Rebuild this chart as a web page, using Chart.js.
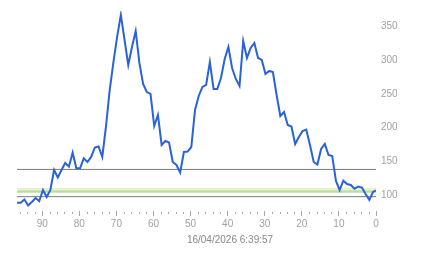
<!DOCTYPE html>
<html>
<head>
<meta charset="utf-8">
<script src="https://cdn.jsdelivr.net/npm/chart.js@4.4.1/dist/chart.umd.min.js"></script>
<style>
  body { margin: 0; background: #fff; }
  #wrap { width: 443px; height: 258px; }
</style>
</head>
<body>
<div id="wrap"><canvas id="chart" width="443" height="258"></canvas></div>
<script>
// minutos hacia atrás (eje x invertido) y valores de la serie
const minutesAgo = [
  96.8, 95.8, 94.8, 93.8, 92.8, 91.8, 90.8, 89.8, 88.8, 87.8,
  86.8, 85.8, 84.8, 83.8, 82.8, 81.8, 80.8, 79.8, 78.8, 77.8,
  76.8, 75.8, 74.8, 73.8, 72.8, 71.8, 70.8, 69.8, 68.8, 67.8,
  66.8, 65.8, 64.8, 63.8, 62.8, 61.8, 60.8, 59.8, 58.8, 57.8,
  56.8, 55.8, 54.8, 53.8, 52.8, 51.8, 50.8, 49.8, 48.8, 47.8,
  46.8, 45.8, 44.8, 43.8, 42.8, 41.8, 40.8, 39.8, 38.8, 37.8,
  36.8, 35.8, 34.8, 33.8, 32.8, 31.8, 30.8, 29.8, 28.8, 27.8,
  26.8, 25.8, 24.8, 23.8, 22.8, 21.8, 20.8, 19.8, 18.8, 17.8,
  16.8, 15.8, 14.8, 13.8, 12.8, 11.8, 10.8, 9.8, 8.8, 7.8,
  6.8, 5.8, 4.8, 3.8, 2.8, 1.8, 0.8, 0
];
const values = [
  88.6, 88.6, 93.3, 84.4, 89.6, 95.5, 91.1, 107.4, 97, 107.4,
  137.2, 126, 137.2, 147.6, 142.1, 162.9, 139.7, 139.7, 154.5, 149,
  156.5, 170.6, 172.1, 156.5, 202.5, 256, 297.6, 334.8, 367.5, 330.3,
  293.2, 319.9, 343.7, 296.2, 265, 253, 250.1, 202.5, 218.9, 174.3,
  180.2, 178, 149, 144.6, 133.4, 163.9, 164.6, 171.3, 226.3, 247.1,
  260.5, 263.5, 297.6, 257.5, 257.5, 273.9, 302.1, 319.9, 288.7, 272.4,
  262, 328.8, 303.6, 318.4, 325.9, 303.6, 300.6, 279.8, 284.3, 282.8,
  248.6, 217.4, 223.3, 204, 201.8, 175.8, 186.2, 195.1, 197.3, 174.3,
  149, 145.3, 168.4, 175.8, 159.4, 158, 120.8, 107.4, 121.3, 116.3,
  114.9, 109.4, 112.6, 111.1, 101.5, 92.6, 104.5, 106.7
];

// líneas de referencia horizontales
const refLevels = [138, 109, 105.2, 97.5];
const refColors = ['#7a7a7a', '#e6d79c', '#b4e29c', '#7a7a7a'];
const refWidths = [1, 1, 2.5, 1];

const xRange = [0, 96.8];
const yRange = [76.2, 373.4];
const xMajorTicks = [0, 10, 20, 30, 40, 50, 60, 70, 80, 90];
const xMinorTicks = [2, 4, 6, 8, 12, 14, 16, 18, 22, 24, 26, 28, 32, 34, 36, 38,
  42, 44, 46, 48, 52, 54, 56, 58, 62, 64, 66, 68, 72, 74, 76, 78, 82, 84, 86, 88,
  92, 94, 96];
const yTicks = [100, 150, 200, 250, 300, 350];
const timestamp = '16/04/2026 6:39:57';

const FONT = '"Liberation Sans", Arial, sans-serif';

const datasets = [{
  data: minutesAgo.map((m, i) => ({ x: m, y: values[i] })),
  borderColor: '#2962d9',
  borderWidth: 2,
  pointRadius: 0,
  tension: 0,
  order: 0
}];
refLevels.forEach((lvl, i) => {
  datasets.push({
    data: [{ x: xRange[0], y: lvl }, { x: xRange[1], y: lvl }],
    borderColor: refColors[i],
    borderWidth: refWidths[i],
    pointRadius: 0,
    order: 1
  });
});

// marcas pequeñas del eje x
const minorTicksPlugin = {
  id: 'minorTicks',
  afterDraw(chart) {
    const ctx = chart.ctx;
    const sx = chart.scales.x;
    const bottom = chart.chartArea.bottom;
    ctx.save();
    ctx.fillStyle = '#a8a8a8';
    xMinorTicks.forEach(v => {
      const px = Math.round(sx.getPixelForValue(v));
      ctx.fillRect(px, bottom + 1, 1, 2);
    });
    ctx.restore();
  }
};

new Chart(document.getElementById('chart'), {
  type: 'line',
  data: { datasets: datasets },
  options: {
    responsive: false,
    animation: false,
    devicePixelRatio: 1,
    layout: { padding: { left: 17, top: 11, right: 0, bottom: 0 } },
    plugins: {
      legend: { display: false },
      tooltip: { enabled: false },
      title: {
        display: true,
        position: 'bottom',
        text: timestamp,
        color: '#888',
        font: { family: FONT, size: 10, weight: 'normal' },
        padding: { top: 4, bottom: 12 }
      }
    },
    scales: {
      x: {
        type: 'linear',
        reverse: true,
        min: xRange[0],
        max: xRange[1],
        afterBuildTicks: scale => { scale.ticks = xMajorTicks.map(v => ({ value: v })); },
        afterFit: scale => { scale.height = 19; },
        border: { display: false },
        grid: {
          display: true,
          drawOnChartArea: false,
          drawTicks: true,
          tickLength: 5,
          tickColor: '#a8a8a8'
        },
        ticks: {
          color: '#a0a0a0',
          padding: 2,
          maxRotation: 0,
          autoSkip: false,
          font: { family: FONT, size: 10 }
        }
      },
      y: {
        position: 'right',
        min: yRange[0],
        max: yRange[1],
        afterBuildTicks: scale => { scale.ticks = yTicks.map(v => ({ value: v })); },
        afterFit: scale => { scale.width = 67; },
        border: { display: false },
        grid: { display: false, drawTicks: false },
        ticks: {
          color: '#a0a0a0',
          padding: 5,
          font: { family: FONT, size: 10 }
        }
      }
    }
  },
  plugins: [minorTicksPlugin]
});
</script>
</body>
</html>
